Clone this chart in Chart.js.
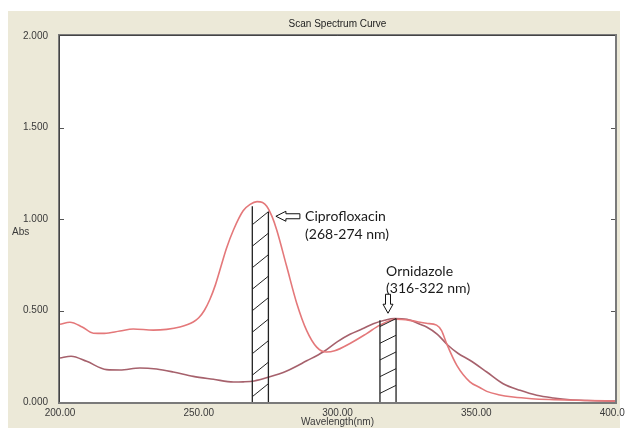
<!DOCTYPE html>
<html>
<head>
<meta charset="utf-8">
<title>Scan Spectrum Curve</title>
<script src="https://cdn.jsdelivr.net/npm/chart.js@4.4.1/dist/chart.umd.min.js"></script>
<style>
  html, body { margin: 0; padding: 0; background: #fff; }
  canvas { display: block; }
</style>
</head>
<body>
<canvas id="spectrum" width="625" height="428"></canvas>
<script>
// wavelengths (nm) and absorbance
const mixWavelength = [200, 203.6, 208, 212, 216, 221.6, 226.4, 233.6, 238.4, 243.2, 248, 250, 252, 254, 256, 258, 260, 262.5, 266, 268.5, 271, 273, 274.5, 276.5, 278.1, 281.7, 285.3, 288.9, 292.5, 296, 299, 304.5, 310.5, 315.3, 321, 326, 332, 335.7, 337.5, 339.3, 343, 347.7, 351.4, 353.8, 358, 363.3, 370, 378, 390, 400];
const mixAbs = [0.425, 0.436, 0.41, 0.376, 0.375, 0.388, 0.399, 0.393, 0.397, 0.41, 0.437, 0.46, 0.50, 0.56, 0.64, 0.74, 0.84, 0.94, 1.045, 1.08, 1.095, 1.09, 1.07, 1.01, 0.94, 0.74, 0.54, 0.39, 0.30, 0.273, 0.28, 0.32, 0.374, 0.42, 0.452, 0.446, 0.43, 0.42, 0.39, 0.32, 0.20, 0.11, 0.078, 0.058, 0.04, 0.027, 0.018, 0.013, 0.008, 0.005];

const ornWavelength = [200, 204, 209.6, 216.8, 221.6, 228.8, 234.8, 240.8, 248, 255.3, 262.5, 266, 270, 275, 281.7, 288.9, 294.8, 300, 304.5, 309, 312.9, 317, 320.5, 325, 329.7, 332.1, 336, 339.8, 343.5, 347.7, 353.8, 359.7, 365.8, 371.8, 377.8, 383.8, 390, 400];
const ornAbs = [0.24, 0.25, 0.222, 0.177, 0.175, 0.186, 0.18, 0.164, 0.14, 0.124, 0.109, 0.11, 0.115, 0.135, 0.17, 0.225, 0.273, 0.33, 0.37, 0.40, 0.428, 0.447, 0.456, 0.452, 0.425, 0.41, 0.37, 0.31, 0.265, 0.228, 0.164, 0.10, 0.064, 0.037, 0.022, 0.012, 0.008, 0.005];

// hatched measuring windows
const bandFrom = [269.3, 315.3];
const bandTo = [275.1, 321.1];
const bandTopLeft = [1.07, 0.447];
const bandTopRight = [1.04, 0.456];

const xTicks = [200, 250, 300, 350, 400];
const yTicks = [0, 0.5, 1, 1.5, 2];

const noteLines = [['Ciprofloxacin', '(268-274 nm)'], ['Ornidazole', '(316-322 nm)']];

const tickFont = { family: 'Liberation Sans', size: 10 };
const tickColor = '#3a3a3a';

// hatch spacing / slope per band, pixels
const hatchGap = [21.5, 16.7];
const hatchRise = [13, 8];

function hollowArrow(ctx, pts) {
  ctx.save();
  ctx.beginPath();
  pts.forEach((p, i) => i ? ctx.lineTo(p[0], p[1]) : ctx.moveTo(p[0], p[1]));
  ctx.closePath();
  ctx.fillStyle = '#fff';
  ctx.fill();
  ctx.strokeStyle = '#111';
  ctx.lineWidth = 1;
  ctx.stroke();
  ctx.restore();
}

const decor = {
  id: 'decor',
  beforeDraw(chart) {
    const { ctx, chartArea: a } = chart;
    ctx.save();
    ctx.fillStyle = '#fff';
    ctx.fillRect(0, 0, chart.width, chart.height);
    ctx.fillStyle = '#ece9d8';
    ctx.fillRect(8, 11, 612, chart.height - 11);
    ctx.fillStyle = '#fff';
    ctx.fillRect(a.left, a.top, a.right - a.left, a.bottom - a.top);
    ctx.restore();
  },
  afterDatasetsDraw(chart) {
    const { ctx } = chart;
    const xs = chart.scales.x, ys = chart.scales.y;
    ctx.save();
    ctx.strokeStyle = '#222';
    bandFrom.forEach((from, i) => {
      const x1 = xs.getPixelForValue(from);
      const x2 = xs.getPixelForValue(bandTo[i]);
      const yl = ys.getPixelForValue(bandTopLeft[i]);
      const yr = ys.getPixelForValue(bandTopRight[i]);
      const y0 = ys.getPixelForValue(0);
      ctx.lineWidth = 1.3;
      ctx.beginPath();
      ctx.moveTo(x1, y0); ctx.lineTo(x1, yl);
      ctx.moveTo(x2, y0); ctx.lineTo(x2, yr);
      ctx.stroke();
      ctx.lineWidth = 1;
      ctx.beginPath();
      for (let y = yr; y + hatchRise[i] < y0; y += hatchGap[i]) {
        ctx.moveTo(x1, y + hatchRise[i]);
        ctx.lineTo(x2, y);
      }
      ctx.stroke();
    });
    ctx.restore();
  },
  afterDraw(chart) {
    const { ctx, chartArea: a } = chart;
    const xs = chart.scales.x, ys = chart.scales.y;
    ctx.save();
    // sunken frame
    ctx.strokeStyle = '#7a7a7a';
    ctx.lineWidth = 2;
    ctx.strokeRect(a.left - 1, a.top - 1, a.right - a.left + 2, a.bottom - a.top + 2);
    ctx.strokeStyle = '#444';
    ctx.lineWidth = 1;
    ctx.beginPath();
    ctx.moveTo(a.left - 0.5, a.bottom); ctx.lineTo(a.left - 0.5, a.top - 0.5); ctx.lineTo(a.right, a.top - 0.5);
    ctx.stroke();
    // inner tick marks
    ctx.strokeStyle = '#555';
    ctx.beginPath();
    yTicks.slice(1, -1).forEach(v => {
      const y = Math.round(ys.getPixelForValue(v)) + 0.5;
      ctx.moveTo(a.left, y); ctx.lineTo(a.left + 4, y);
      ctx.moveTo(a.right - 4, y); ctx.lineTo(a.right, y);
    });
    ctx.stroke();

    // title and y label
    ctx.fillStyle = '#222';
    ctx.font = '10px "Liberation Sans"';
    ctx.textAlign = 'center';
    ctx.textBaseline = 'middle';
    ctx.fillText('Scan Spectrum Curve', (a.left + a.right) / 2, 24);
    ctx.textAlign = 'left';
    ctx.fillStyle = tickColor;
    ctx.fillText('Abs', 12, ys.getPixelForValue(0.93));

    // annotations
    ctx.font = '14px Lato';
    ctx.textBaseline = 'middle';
    const cx = xs.getPixelForValue(288.3), cy = ys.getPixelForValue(1.015);
    ctx.fillStyle = '#1a1a1a';
    noteLines[0].forEach((t, k) => ctx.fillText(t, cx, cy + k * 18));
    const tx = xs.getPixelForValue(277.8);
    hollowArrow(ctx, [[tx, cy], [tx + 10, cy - 5], [tx + 10, cy - 2.5], [tx + 24, cy - 2.5], [tx + 24, cy + 2.5], [tx + 10, cy + 2.5], [tx + 10, cy + 5]]);

    const ox = xs.getPixelForValue(317.5), oy = ys.getPixelForValue(0.714);
    ctx.fillStyle = '#1a1a1a';
    noteLines[1].forEach((t, k) => ctx.fillText(t, ox, oy + k * 17));
    const dx = xs.getPixelForValue(318.2), dy = ys.getPixelForValue(0.485);
    hollowArrow(ctx, [[dx, dy], [dx - 5, dy - 9], [dx - 2.5, dy - 9], [dx - 2.5, dy - 19], [dx + 2.5, dy - 19], [dx + 2.5, dy - 9], [dx + 5, dy - 9]]);
    ctx.restore();
  }
};

const toPoints = (xs, ys) => xs.map((x, i) => ({ x: x, y: ys[i] }));

new Chart(document.getElementById('spectrum').getContext('2d'), {
  type: 'line',
  data: {
    datasets: [{
      label: 'Scan 1',
      data: toPoints(mixWavelength, mixAbs),
      borderColor: '#e4787a',
      borderWidth: 1.6,
      pointRadius: 0,
      cubicInterpolationMode: 'monotone'
    }, {
      label: 'Scan 2',
      data: toPoints(ornWavelength, ornAbs),
      borderColor: '#a6616c',
      borderWidth: 1.6,
      pointRadius: 0,
      cubicInterpolationMode: 'monotone'
    }]
  },
  options: {
    responsive: false,
    animation: false,
    events: [],
    layout: { padding: { top: 36, right: 10, left: 0, bottom: 0 } },
    plugins: { legend: { display: false }, tooltip: { enabled: false }, title: { display: false } },
    scales: {
      x: {
        type: 'linear',
        min: 200, max: 400,
        afterBuildTicks: s => { s.ticks = xTicks.map(v => ({ value: v })); },
        afterFit: s => { s.height = 26; s.paddingLeft = 0; s.paddingRight = 0; },
        ticks: { callback: v => v.toFixed(2), padding: -3, maxRotation: 0, autoSkip: false, color: tickColor, font: tickFont },
        grid: { display: false },
        border: { display: false },
        title: { display: true, text: 'Wavelength(nm)', padding: { top: 0, bottom: 0 }, color: tickColor, font: tickFont }
      },
      y: {
        min: 0, max: 2,
        afterBuildTicks: s => { s.ticks = yTicks.map(v => ({ value: v })); },
        afterFit: s => { s.width = 60; },
        ticks: { callback: v => v.toFixed(3), padding: 4, color: tickColor, font: tickFont },
        grid: { display: false },
        border: { display: false }
      }
    }
  },
  plugins: [decor]
});
</script>
</body>
</html>
